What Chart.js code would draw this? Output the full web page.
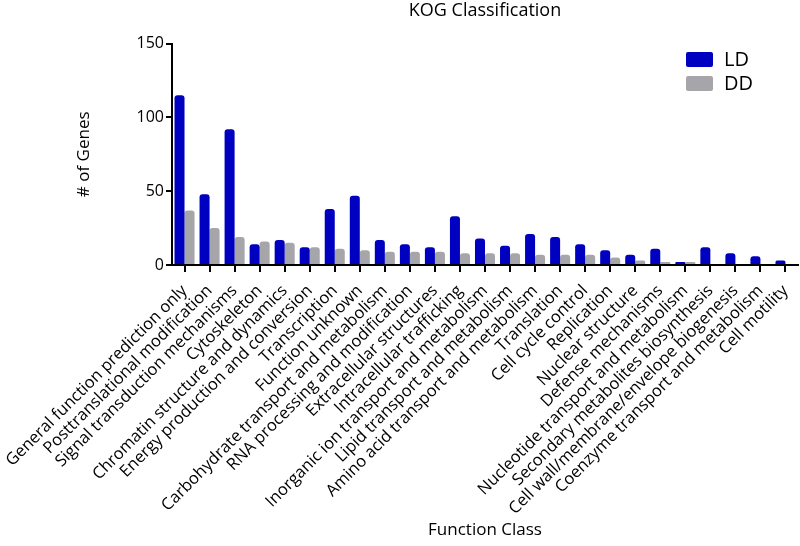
<!DOCTYPE html>
<html>
<head>
<meta charset="utf-8">
<script src="https://cdn.jsdelivr.net/npm/chart.js@4.4.0/dist/chart.umd.min.js"></script>
<style>
  html, body { margin: 0; padding: 0; background: #fff; }
  #wrap { width: 800px; height: 546px; }
</style>
</head>
<body>
<div id="wrap"><canvas id="kogChart"></canvas></div>
<script>
const categories = [
  "General function prediction only",
  "Posttranslational modification",
  "Signal transduction mechanisms",
  "Cytoskeleton",
  "Chromatin structure and dynamics",
  "Energy production and conversion",
  "Transcription",
  "Function unknown",
  "Carbohydrate transport and metabolism",
  "RNA processing and modification",
  "Extracellular structures",
  "Intracellular trafficking",
  "Inorganic ion transport and metabolism",
  "Lipid transport and metabolism",
  "Amino acid transport and metabolism",
  "Translation",
  "Cell cycle control",
  "Replication",
  "Nuclear structure",
  "Defense mechanisms",
  "Nucleotide transport and metabolism",
  "Secondary metabolites biosynthesis",
  "Cell wall/membrane/envelope biogenesis",
  "Coenzyme transport and metabolism",
  "Cell motility",
];

const ldValues = [115, 48, 92, 14, 17, 12, 38, 47, 17, 14, 12, 33, 18, 13, 21, 19, 14, 10, 7, 11, 2, 12, 8, 6, 3];
const ddValues = [37, 25, 19, 16, 15, 12, 11, 10, 9, 9, 9, 8, 8, 8, 7, 7, 7, 5, 3, 2, 2, 0, 0, 0, 0];

const yTicks = [0, 50, 100, 150];

Chart.defaults.font.family = "'Open Sans', sans-serif";
Chart.defaults.color = "#000";

// legend drawn in the top right corner of the plot
const cornerLegend = {
  id: "cornerLegend",
  afterDraw: function (chart) {
    const c = chart.ctx;
    c.save();
    c.font = "20px 'Open Sans', sans-serif";
    c.textBaseline = "middle";
    chart.data.datasets.forEach(function (ds, i) {
      const y = 52 + i * 24;
      c.fillStyle = ds.backgroundColor;
      c.beginPath();
      c.roundRect(686, y, 27, 15, 2);
      c.fill();
      c.fillStyle = "#000";
      c.fillText(ds.label, 724, y + 8);
    });
    c.restore();
  },
};

const ctx = document.getElementById("kogChart").getContext("2d");
const kogChart = new Chart(ctx, {
  type: "bar",
  data: {
    labels: categories,
    datasets: [
      {
        label: "LD",
        data: ldValues,
        backgroundColor: "#0000c0",
        borderRadius: { topLeft: 3, topRight: 3 },
        borderSkipped: "start",
      },
      {
        label: "DD",
        data: ddValues,
        backgroundColor: "#a6a6aa",
        borderRadius: { topLeft: 3, topRight: 3 },
        borderSkipped: "start",
      },
    ],
  },
  options: {
    responsive: true,
    maintainAspectRatio: false,
    animation: false,
    layout: { padding: { left: 0, right: 2, top: 0, bottom: 0 } },
    datasets: {
      bar: { categoryPercentage: 0.8, barPercentage: 1.0 },
    },
    plugins: {
      legend: { display: false },
      tooltip: { enabled: false },
      title: {
        display: true,
        text: "KOG Classification",
        fullSize: false,
        font: { size: 18, weight: "normal" },
        padding: { top: 0, bottom: 22 },
      },
    },
    scales: {
      x: {
        grid: {
          offset: false,
          drawOnChartArea: false,
          drawTicks: true,
          tickLength: 7,
          color: "#000",
          lineWidth: 2,
        },
        border: { color: "#000", width: 2 },
        ticks: {
          autoSkip: false,
          maxRotation: 45,
          minRotation: 45,
          padding: 9,
          font: { size: 16.5 },
        },
        title: {
          display: true,
          text: "Function Class",
          font: { size: 17 },
          padding: { top: 4, bottom: 6 },
        },
        afterFit: function (scale) {
          scale.height = 281;
          scale.paddingLeft = 0;
          scale.paddingRight = 0;
        },
      },
      y: {
        min: 0,
        max: 150,
        afterBuildTicks: function (scale) {
          scale.ticks = yTicks.map(function (v) { return { value: v }; });
        },
        grid: {
          drawOnChartArea: false,
          drawTicks: true,
          tickLength: 6,
          color: "#000",
          lineWidth: 2,
        },
        border: { color: "#000", width: 2 },
        ticks: { padding: 2, font: { size: 16 } },
        title: {
          display: true,
          text: "# of Genes",
          font: { size: 17 },
          padding: { top: 74, bottom: 0 },
        },
        afterFit: function (scale) {
          scale.width = 172;
        },
      },
    },
  },
  plugins: [cornerLegend],
});
</script>
</body>
</html>
